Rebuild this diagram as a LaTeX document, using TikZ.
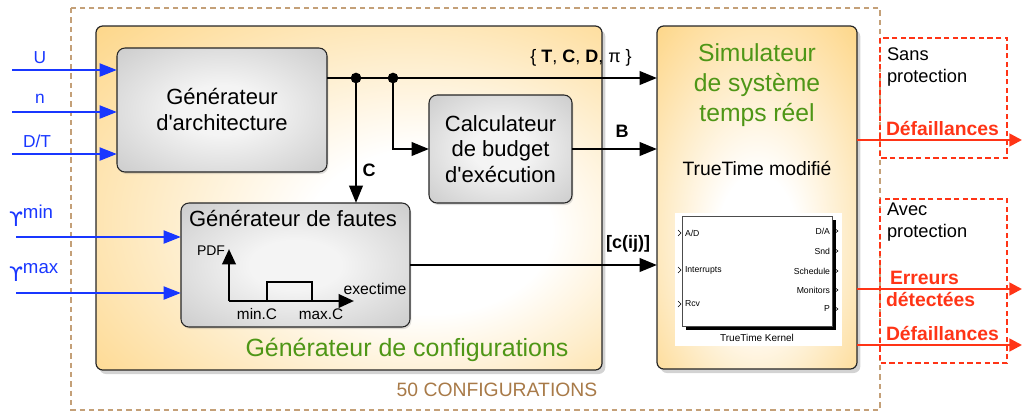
\documentclass[tikz,border=0pt]{standalone}
\usepackage{fontspec}
\setmainfont{Liberation Sans}
\newfontfamily\symfont{DejaVu Sans}
\usetikzlibrary{arrows.meta,shadows,fit,calc}

\definecolor{inblue}{RGB}{25,55,255}
\definecolor{cfggreen}{RGB}{78,150,22}
\definecolor{outred}{RGB}{255,52,22}
\definecolor{dashbrown}{RGB}{196,160,120}
\definecolor{labelbrown}{RGB}{168,122,72}
\definecolor{amber}{RGB}{253,208,118}
\definecolor{amberdeep}{RGB}{252,200,105}
\definecolor{graylight}{RGB}{244,244,244}
\definecolor{grayedge}{RGB}{182,182,182}
\definecolor{graycorner}{RGB}{160,160,160}

% soft glows used to fill the blocks
\pgfdeclareradialshading{amberglowwide}{\pgfpoint{10bp}{-6bp}}{%
  color(0bp)=(white); color(12bp)=(white); color(44bp)=(amber); color(60bp)=(amberdeep)}
\pgfdeclareradialshading{amberglowtall}{\pgfpoint{0bp}{-8bp}}{%
  color(0bp)=(white); color(10bp)=(white); color(42bp)=(amber); color(60bp)=(amberdeep)}
\pgfdeclareradialshading{grayglow}{\pgfpoint{0bp}{0bp}}{%
  color(0bp)=(graylight); color(10bp)=(graylight); color(50bp)=(grayedge); color(70bp)=(graycorner)}

\newcommand\fsz[2]{\fontsize{#1}{#2}\selectfont}

\begin{document}
\begin{tikzpicture}[x=0.75pt,y=-0.75pt,
  every node/.style={inner sep=0pt, outer sep=0pt},
  yellowblock/.style={draw=black!85, line width=0.9pt, rounded corners=5pt,
    drop shadow={shadow xshift=2.5pt, shadow yshift=-3pt, opacity=0.35}},
  graybox/.style={draw=black!85, line width=0.8pt, rounded corners=6pt,
    shade, shading=grayglow,
    drop shadow={shadow xshift=1pt, shadow yshift=-1.5pt, opacity=0.25}},
  arr/.style={draw=black, line width=2pt, -{Triangle[length=13pt,width=10pt]}},
  inarr/.style={draw=inblue, line width=2.2pt, -{Triangle[length=13pt,width=9.5pt]}},
  outarr/.style={draw=outred, line width=2pt, -{Triangle[length=9.5pt,width=9.5pt]}},
  junction/.style={circle, fill=black, minimum size=8pt},
  inlabel/.style={text=inblue, font=\fsz{13}{15}},
  boldlabel/.style={font=\fsz{13.5}{16}\bfseries},
  redlabel/.style={text=outred, font=\fsz{14.5}{16}\bfseries, anchor=west},
  kport/.style={font=\fsz{6.5}{8}},
  portmark/.style={line width=0.4pt},
]
\useasboundingbox (0,0) rectangle (1024,412);

% outer frame of the configuration loop
\draw[dashbrown, line width=1.1pt, dash pattern=on 4pt off 3pt] (71,8) rectangle (880,410);
\node[text=labelbrown, font=\fsz{14.5}{16}] (ncfg) at (497,390) {50 CONFIGURATIONS};

% protection areas
\draw[outred, line width=0.8pt, dash pattern=on 4pt off 2.5pt] (880,38) rectangle (1007,158);
\draw[outred, line width=0.8pt, dash pattern=on 4pt off 2.5pt] (880,199) rectangle (1007,363);

% configuration generator
\node[yellowblock, shade, shading=amberglowwide, fit={(96,26) (602,370)}] (gen) {};
\node[text=cfggreen, font=\fsz{18.7}{22}] (gentitle) at (407,350) {Générateur de configurations};

% simulator
\node[yellowblock, shade, shading=amberglowtall, fit={(657,26) (857,369)}] (sim) {};
\node[text=cfggreen, font=\fsz{18.5}{22.5}, align=center] (simtitle) at (757,85)
  {Simulateur\\de système\\temps réel};
\node[font=\fsz{14.5}{17}] (ttmod) at (757,168) {TrueTime modifié};

% inner blocks
\node[graybox, fit={(117,48) (327,172)}] (arch) {};
\node[font=\fsz{16.5}{19.5}, align=center] (archtxt) at (arch.center) {Générateur\\d\textquotesingle architecture};
\node[graybox, fit={(429,95) (572,203)}] (calc) {};
\node[font=\fsz{16.5}{19.2}, align=center] (calctxt) at (calc.center) {Calculateur\\de budget\\d\textquotesingle exécution};
\node[graybox, fit={(181,203) (410,327)}] (faults) {};
\node[font=\fsz{16.5}{19.5}] (faultstitle) at (293,218) {Générateur de fautes};

% execution time distribution
\coordinate (orig) at (229,301);
\coordinate (ytop) at (229,249);
\coordinate (xend) at (354,301);
\draw[line width=2pt, -{Triangle[length=11.5pt,width=10pt]}] (orig) -- (ytop);
\draw[line width=2pt, -{Triangle[length=11.5pt,width=10pt]}] (orig) -- (xend);
\draw[line width=1.6pt] (267,301) -- (267,282) -- (312,282) -- (312,301);
\node[font=\fsz{10.5}{12}, anchor=east] (pdf) at (225,251) {PDF};
\node[font=\fsz{11.8}{13}] (exec) at (375,289) {exectime};
\node[font=\fsz{11.5}{13}] (minc) at (257,314) {min.C};
\node[font=\fsz{11.5}{13}] (maxc) at (321,314) {max.C};

% TrueTime kernel block
\node[fill=white, fit={(675,213) (842,346)}] (kimg) {};
\fill[black] (686,220) rectangle (836,330);
\node[draw=black!70, line width=0.6pt, fill=white, fit={(682,216) (832,326)}] (kernel) {};
\draw[portmark] (678,230) -- (681,233) -- (678,236);
\draw[portmark] (678,267) -- (681,270) -- (678,273);
\draw[portmark] (678,301) -- (681,304) -- (678,307);
\node[kport, anchor=west] (pad) at (685,233) {A/D};
\node[kport, anchor=west] (pint) at (685,270) {Interrupts};
\node[kport, anchor=west] (prcv) at (685,304) {Rcv};
\draw[portmark] (834,228) -- (838,231) -- (834,234);
\draw[portmark] (834,248) -- (838,251) -- (834,254);
\draw[portmark] (834,268) -- (838,271) -- (834,274);
\draw[portmark] (834,287) -- (838,290) -- (834,293);
\draw[portmark] (834,306) -- (838,309) -- (834,312);
\node[kport, anchor=east] (pda) at (830,231) {D/A};
\node[kport, anchor=east] (psnd) at (830,251) {Snd};
\node[kport, anchor=east] (psch) at (830,271) {Schedule};
\node[kport, anchor=east] (pmon) at (830,290) {Monitors};
\node[kport, anchor=east] (pp) at (830,309) {P};
\node[font=\fsz{7.5}{9}] (kname) at (757,338) {TrueTime Kernel};

% inputs
\coordinate (inU) at (12,70);
\coordinate (inN) at (12,112);
\coordinate (inDT) at (12,154);
\coordinate (inYmin) at (16,237);
\coordinate (inYmax) at (16,293);
\draw[inarr] (inU) -- (inU -| arch.west);
\draw[inarr] (inN) -- (inN -| arch.west);
\draw[inarr] (inDT) -- (inDT -| arch.west);
\draw[inarr] (inYmin) -- (inYmin -| faults.west);
\draw[inarr] (inYmax) -- (inYmax -| faults.west);
\node[inlabel] (lU) at (40,58) {U};
\node[inlabel] (lN) at (40,99) {n};
\node[inlabel] (lDT) at (37,141) {D/T};
\node[inlabel, anchor=base west] (lYmin) at (9,226) {{\symfont\fsz{15}{17}ϒ}\raisebox{6pt}{\fsz{14}{16}min}};
\node[inlabel, anchor=base west] (lYmax) at (9,281) {{\symfont\fsz{15}{17}ϒ}\raisebox{6pt}{\fsz{14}{16}max}};

% task parameters and budgets
\coordinate (trunk) at (327,78);
\node[junction] (j1) at (356,78) {};
\node[junction] (j2) at (393,78) {};
\draw[arr] (arch.east |- trunk) -- (sim.west |- trunk);
\draw[arr] (j1.center) -- (faults.north -| j1);
\draw[arr] (j2.center) |- (calc.west);
\draw[arr] (calc.east) -- (sim.west |- calc.east);
\draw[arr] (faults.east) -- (sim.west |- faults.east);
\node[font=\fsz{13.5}{16}] (lparams) at (581,58) {\{ \textbf{T}, \textbf{C}, \textbf{D}, π \}};
\node[boldlabel] (lC) at (369,170) {C};
\node[boldlabel] (lB) at (622,131) {B};
\node[boldlabel] (lcij) at (628,244) {[c(ij)]};

% outputs
\coordinate (out1) at (1022,140);
\coordinate (out2) at (1022,289);
\coordinate (out3) at (1022,345);
\draw[outarr] (sim.east |- out1) -- (out1);
\draw[outarr] (sim.east |- out2) -- (out2);
\draw[outarr] (sim.east |- out3) -- (out3);
\node[font=\fsz{13.7}{16}, align=left, anchor=west] (sansp) at (887,67) {Sans\\protection};
\node[font=\fsz{13.7}{16}, align=left, anchor=west] (avecp) at (887,222) {Avec\\protection};
\node[redlabel] (fail1) at (886,128) {Défaillances};
\node[redlabel] (err1) at (890,278) {Erreurs};
\node[redlabel] (err2) at (886,299) {détectées};
\node[redlabel] (fail2) at (886,333) {Défaillances};
\end{tikzpicture}
\end{document}
